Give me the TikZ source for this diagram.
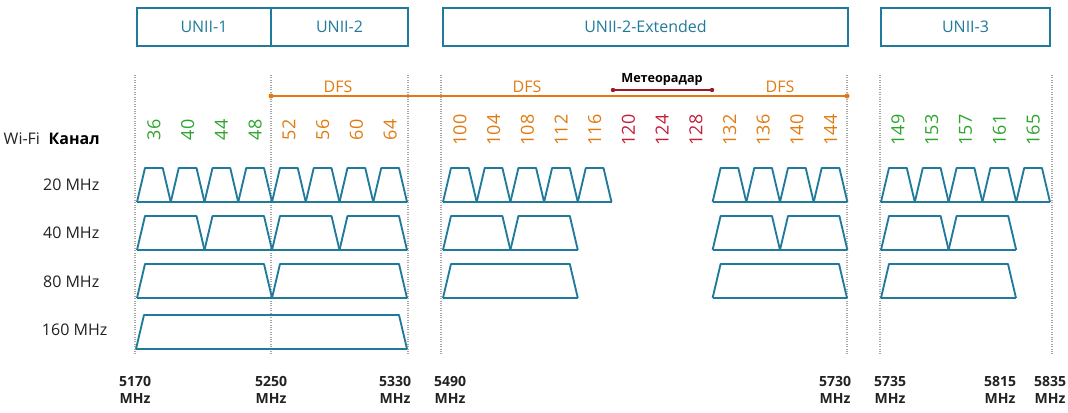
\documentclass[tikz,border=0pt]{standalone}
\usepackage{fontspec}
\setmainfont{Open Sans}
\definecolor{wblue}{HTML}{1F7A9C}
\definecolor{wgreen}{HTML}{2DA52D}
\definecolor{worange}{HTML}{E07B12}
\definecolor{wred}{HTML}{C21F3A}
\definecolor{wtext}{HTML}{222222}
\begin{document}
\begin{tikzpicture}[x=0.75pt,y=-0.75pt,
  band/.style={draw=wblue,line width=1.3pt,minimum height=28.5pt,inner sep=0pt,font=\fontsize{12}{14}\selectfont,text=wblue},
  grid/.style={densely dotted,gray!70,line width=0.8pt},
  trap/.style={draw=wblue,line width=1.4pt,line join=round},
  chan/.style={rotate=90,font=\fontsize{13.5}{15}\selectfont,anchor=center},
  rowlab/.style={anchor=east,font=\fontsize{12}{14}\selectfont,text=wtext},
  freq/.style={align=center,font=\bfseries\fontsize{10.5}{12.5}\selectfont,text=wtext,anchor=north},
  dfs/.style={text=worange,font=\fontsize{12}{14}\selectfont}]
\useasboundingbox (0,0) rectangle (1068,413);
% grid
\foreach \x/\n in {135/g1,271/g2,408/g3,441/g4,847/g5,880/g6,1052/g7}
  \draw[grid] (\x,75) coordinate (\n a) -- (\x,355) coordinate (\n b);
% bands
\node[band,minimum width=101pt] (u1) at (204,27) {UNII-1};
\node[band,minimum width=102.7pt] (u2) at (339.5,27) {UNII-2};
\node[band,minimum width=303.75pt] (u2e) at (645.5,27) {UNII-2-Extended};
\node[band,minimum width=126.75pt] (u3) at (965.5,27) {UNII-3};
% DFS
\coordinate (d1) at (271,96); \coordinate (d2) at (847,96);
\draw[worange,line width=1.5pt] (d1) -- (d2);
\fill[worange] (d1) circle (2.5) (d2) circle (2.5);
\node[dfs] (dfsA) at (338,87) {DFS};
\node[dfs] (dfsB) at (527,87) {DFS};
\node[dfs] (dfsC) at (780,87) {DFS};
\coordinate (m1) at (613,90); \coordinate (m2) at (712,90);
\draw[wred!80!black,line width=1.1pt] (m1) -- (m2);
\fill[wred!80!black] (m1) circle (2.2) (m2) circle (2.2);
\node[font=\bfseries\fontsize{9.5}{11}\selectfont,text=black] (met) at (662,80) {Метеорадар};
% labels
\node[anchor=west,font=\fontsize{12}{14}\selectfont,text=wtext] (wifi) at (-1,139) {Wi-Fi};
\node[anchor=west,font=\bfseries\fontsize{12}{14}\selectfont] (kanal) at (44,139) {Канал};
\node[rowlab] (r20) at (104,185) {20 MHz};
\node[rowlab] (r40) at (104,233) {40 MHz};
\node[rowlab] (r80) at (104,282) {80 MHz};
\node[rowlab] (r160) at (112,330) {160 MHz};
% channel numbers
\foreach \c [count=\i from 0] in {36,40,44,48}
  \node[chan,text=wgreen] (c\c) at (137+33.75*\i+17,130) {\c};
\foreach \c [count=\i from 4] in {52,56,60,64}
  \node[chan,text=worange] (c\c) at (137+33.75*\i+17,130) {\c};
\foreach \c [count=\i from 0] in {100,104,108,112,116}
  \node[chan,text=worange] (c\c) at (443+33.7*\i+17,130) {\c};
\foreach \c [count=\i from 5] in {120,124,128}
  \node[chan,text=wred] (c\c) at (443+33.7*\i+17,130) {\c};
\foreach \c [count=\i from 8] in {132,136,140,144}
  \node[chan,text=worange] (c\c) at (443+33.7*\i+17,130) {\c};
\foreach \c [count=\i from 0] in {149,153,157,161,165}
  \node[chan,text=wgreen] (c\c) at (881+33.8*\i+17,130) {\c};
% trapezoids
\newcommand{\tp}[3]{\draw[trap] (#1,#3+34) -- (#1+8,#3) -- (#2-8,#3) -- (#2,#3+34);}
\foreach \i in {0,...,7}{\tp{137+33.75*\i}{137+33.75*\i+33.75}{168}}
\draw[trap] (137,202) -- (407,202);
\foreach \i in {0,...,4,8,9,10,11}{\tp{443+33.7*\i}{443+33.7*\i+33.7}{168}}
\draw[trap] (443,202) -- (611.5,202) (712.6,202) -- (847,202);
\foreach \i in {0,...,4}{\tp{881+33.8*\i}{881+33.8*\i+33.8}{168}}
\draw[trap] (881,202) -- (1050,202);
% 40
\foreach \i in {0,2,4,6}{\tp{137+33.75*\i}{137+33.75*\i+67.5}{216}}
\draw[trap] (137,250) -- (407,250);
\foreach \i in {0,2,8,10}{\tp{443+33.7*\i}{443+33.7*\i+67.4}{216}}
\draw[trap] (443,250) -- (577.8,250) (712.6,250) -- (847,250);
\foreach \i in {0,2}{\tp{881+33.8*\i}{881+33.8*\i+67.6}{216}}
\draw[trap] (881,250) -- (1016,250);
% 80
\tp{137}{272}{264}\tp{272}{407}{264}
\draw[trap] (137,298) -- (407,298);
\tp{443}{577.8}{264}\tp{712.6}{847}{264}
\draw[trap] (443,298) -- (577.8,298) (712.6,298) -- (847,298);
\tp{881}{1016}{264}
\draw[trap] (881,298) -- (1016,298);
% 160
\tp{136}{407}{315}
\draw[trap] (136,349) -- (407,349);
% freqs
\foreach \x/\f in {135/5170,271/5250,395/5330,450/5490,835/5730,890/5735,1000/5815,1050/5835}
  \node[freq] (f\f) at (\x,372) {\f\\MHz};
\end{tikzpicture}
\end{document}
